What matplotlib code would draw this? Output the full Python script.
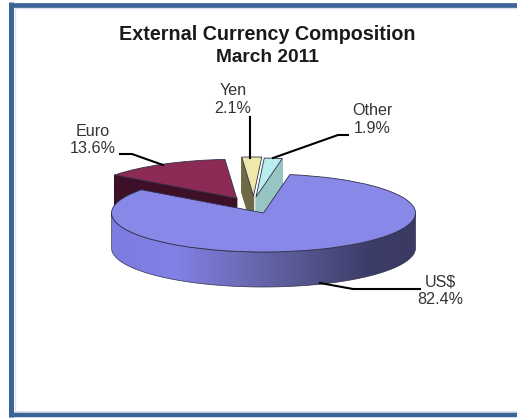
import numpy as np
import matplotlib
matplotlib.use("Agg")
import matplotlib.pyplot as plt
from matplotlib.colors import LinearSegmentedColormap
from matplotlib.patches import Polygon

plt.rcParams['font.family'] = ['Liberation Sans', 'DejaVu Sans']

currencies = ['US$', 'Other', 'Yen', 'Euro']
shares = [82.4, 1.9, 2.1, 13.6]

top_colors = ['#8888e8', '#b8eeee', '#eee8aa', '#8a2a55']
side_colors = ['#8585e8', '#98c4c4', '#6f6a45', '#3d1028']

W, H = 517, 418
CX, CY, RX, RY = 263.5, 213.0, 152.0, 39.0
DEPTH = 35 / RY

fig = plt.figure(figsize=(W / 100, H / 100), dpi=100)

# pie axes: one data unit is the ellipse radius, so the pie comes out flattened
ax = fig.add_axes([0, 0, 1, 1], zorder=1)
wedges, _ = ax.pie(shares, colors=top_colors, startangle=143.4, counterclock=True,
                   wedgeprops={'linewidth': 0.6, 'edgecolor': '#30304a'})
ax.set_aspect('auto')

# pulled out slices, offset in data units
shift = {'Other': (-7.5 / RX, 16 / RY), 'Yen': (-10 / RX, 17 / RY), 'Euro': (-26.8 / RX, 14.7 / RY)}
for w, name in zip(wedges, currencies):
    if name in shift:
        w.set_center(shift[name])
    w.set_zorder(5 if name == 'US$' else 3)


def radial_face(w, angle):
    cx, cy = w.center
    px, py = cx + np.cos(np.radians(angle)), cy + np.sin(np.radians(angle))
    return [(px, py), (cx, cy), (cx, cy - DEPTH), (px, py - DEPTH)]


# faces turned to the viewer
w_us, w_other, w_yen, w_euro = wedges
ax.add_patch(Polygon(radial_face(w_euro, w_euro.theta2), color=side_colors[3], zorder=2))
ax.add_patch(Polygon(radial_face(w_yen, w_yen.theta2), color=side_colors[2], zorder=2))
ax.add_patch(Polygon(radial_face(w_other, w_other.theta1), color=side_colors[1], zorder=2))

# rim of the big slice, shaded from left to right
t = np.radians(np.linspace(180, 360, 200))
rim = np.r_[np.c_[np.cos(t), np.sin(t)],
            np.c_[np.cos(t[::-1]), np.sin(t[::-1]) - DEPTH]]
rim_patch = Polygon(rim, closed=True, facecolor='none', edgecolor='#30304a', lw=0.5, zorder=4)
ax.add_patch(rim_patch)
shade = LinearSegmentedColormap.from_list('rim', [(0, '#7c7ce0'), (0.2, '#8282e6'),
                                                  (0.55, '#5f5f9e'), (0.85, '#3c3c68'),
                                                  (1, '#3a3a62')])
im = ax.imshow(np.linspace(0, 1, 256)[None, :], cmap=shade, extent=(-1, 1, -1 - DEPTH, 0),
               aspect='auto', zorder=3.5)
im.set_clip_path(rim_patch)
ax.set_xlim(-CX / RX, (W - CX) / RX)
ax.set_ylim((CY - H) / RY, CY / RY)

# overlay in pixels for the frame, the title and the labels
ov = fig.add_axes([0, 0, 1, 1], zorder=2)
ov.set_xlim(0, W)
ov.set_ylim(H, 0)
ov.axis('off')
ov.patch.set_alpha(0)

frame = '#3a6496'
ov.plot([14.5, 14.5, W], [412, 8, 8], color='#dde3f0', lw=1)
ov.plot([14.5, W], [412, 412], color='#dde3f0', lw=1.5)
ov.plot([10.5, 10.5], [2, 417], color=frame, lw=3.6, solid_capstyle='butt')
ov.plot([8.5, W], [4.5, 4.5], color=frame, lw=3.4, solid_capstyle='butt')
ov.plot([8.5, W], [415, 415], color=frame, lw=3.2, solid_capstyle='butt')

ov.text(267, 35, 'External Currency Composition', fontsize=14.2, fontweight='bold',
        ha='center', va='center', color='#1a1a1a')
ov.text(267, 57, 'March 2011', fontsize=13.8, fontweight='bold', ha='center', va='center',
        color='#1a1a1a')

label_xy = {'US$': (440, 291), 'Other': (372, 119.5), 'Yen': (233, 99.5), 'Euro': (93, 140)}
leaders = {
    'US$': ([320, 353, 420], [283, 289, 289]),
    'Other': ([348, 338, 273], [135, 135, 158]),
    'Yen': ([250, 250], [117, 158]),
    'Euro': ([120, 132, 163], [154, 154, 165]),
}
for name, share in zip(currencies, shares):
    x, y = label_xy[name]
    ov.text(x, y, f'{name}\n{share}%', fontsize=11.6, ha='center', va='center',
            color='#333333', linespacing=1.2)
    ov.plot(leaders[name][0], leaders[name][1], color='black', lw=1.5)

fig.savefig('out.png', dpi=100, facecolor='white')
